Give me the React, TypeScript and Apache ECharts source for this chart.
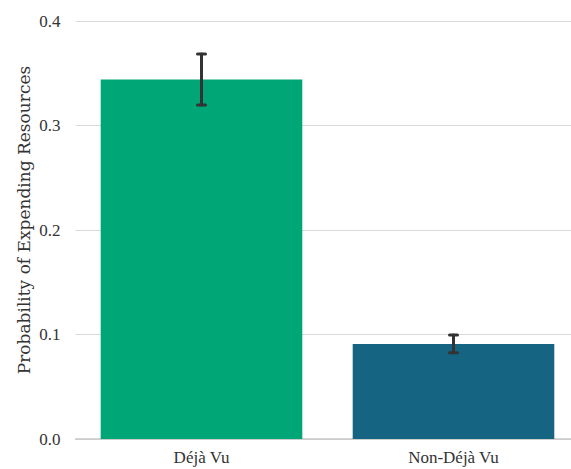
import React, { useEffect, useRef } from "react";
import * as echarts from "echarts";

const categories = ["Déjà Vu", "Non-Déjà Vu"];
const values = [0.344, 0.091];
const errLow = [0.3196, 0.0825];
const errHigh = [0.3685, 0.0995];
const colors = ["#00A676", "#156582"];
const yTicks = [0, 0.1, 0.2, 0.3, 0.4];
const yTitle = "Probability of Expending Resources";

export default function App() {
  const ref = useRef<HTMLDivElement>(null);
  useEffect(() => {
    if (!ref.current) return;
    const chart = echarts.init(ref.current, null, { renderer: "svg" });
    const font = "'DejaVu Serif', serif";
    const font2 = "'Liberation Serif', serif";
    chart.setOption({
      animation: false,
      backgroundColor: "#ffffff",
      grid: {
        left: 75.5,
        width: 504,
        top: 21,
        bottom: 30,
        containLabel: false,
        outerBoundsMode: "none",
      },
      graphic: [
        {
          type: "text",
          x: 24,
          y: 220,
          rotation: Math.PI / 2,
          style: {
            text: yTitle,
            fill: "#333",
            font: `17px ${font}`,
            align: "center",
            verticalAlign: "middle",
          },
        },
      ],
      xAxis: {
        type: "category",
        data: categories,
        axisLine: { show: true, lineStyle: { color: "#c8c8c8", width: 1.5 } },
        axisTick: { show: false },
        axisLabel: { color: "#333", fontFamily: font2, fontSize: 17, margin: 10 },
      },
      yAxis: {
        type: "value",
        min: yTicks[0],
        max: yTicks[yTicks.length - 1],
        interval: 0.1,
        axisLine: { show: false },
        axisTick: { show: false },
        axisLabel: {
          color: "#333",
          fontFamily: font2,
          fontSize: 17,
          margin: 15,
          formatter: (v: number) => v.toFixed(1),
        },
        splitLine: { show: true, lineStyle: { color: "#d9d9d9", width: 1.2 } },
      },
      series: [
        {
          type: "bar",
          data: values.map((v, i) => ({ value: v, itemStyle: { color: colors[i] } })),
          barWidth: "80%",
        },
        {
          type: "custom",
          data: categories.map((c, i) => [i, errLow[i], errHigh[i]]),
          renderItem: (params: any, api: any) => {
            const x = api.value(0);
            const lo = api.coord([x, api.value(1)]);
            const hi = api.coord([x, api.value(2)]);
            const hw = 4;
            const style = { stroke: "#333", lineWidth: 3, lineCap: "round" };
            return {
              type: "group",
              children: [
                { type: "line", shape: { x1: lo[0], y1: lo[1], x2: hi[0], y2: hi[1] }, style },
                { type: "line", shape: { x1: lo[0] - hw, y1: lo[1], x2: lo[0] + hw, y2: lo[1] }, style },
                { type: "line", shape: { x1: hi[0] - hw, y1: hi[1], x2: hi[0] + hw, y2: hi[1] }, style },
              ],
            };
          },
          z: 10,
        },
      ],
    });
    return () => chart.dispose();
  }, []);
  return (
    <div
      ref={ref}
      style={{ position: "fixed", left: 0, top: 0, width: 571, height: 469, overflow: "hidden" }}
    />
  );
}
